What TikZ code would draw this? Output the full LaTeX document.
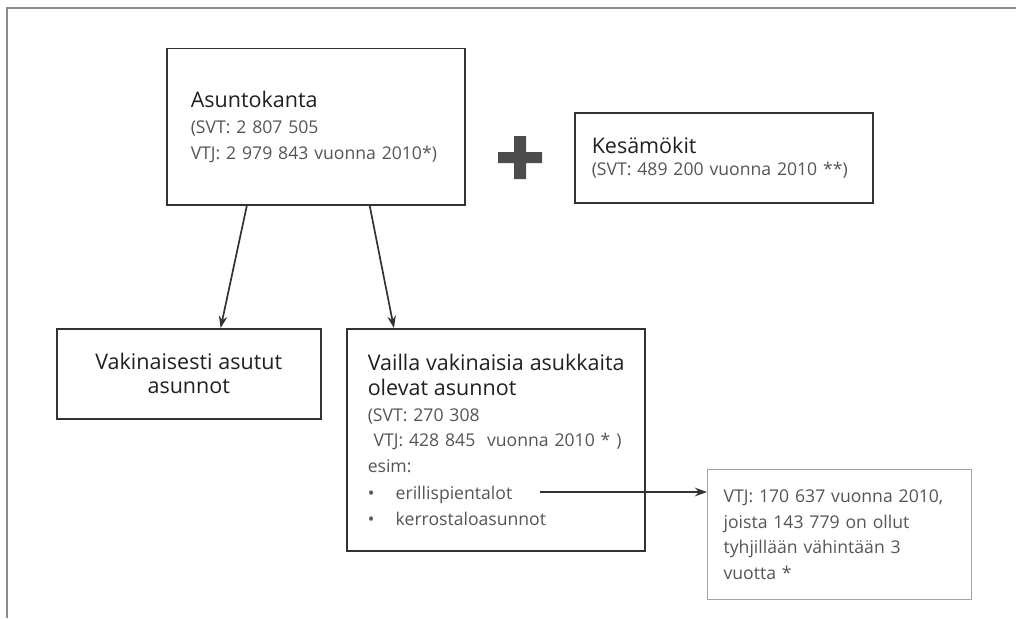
\documentclass[tikz,border=0pt]{standalone}
\usepackage{fontspec}
\setmainfont{Open Sans}
\usetikzlibrary{arrows.meta,positioning,calc}
\definecolor{viiva}{HTML}{333333}
\definecolor{kehys}{HTML}{8C8C8C}
\definecolor{harmaa}{HTML}{555555}
\definecolor{otsikko}{HTML}{231F20}
\newcommand{\otsikko}{\color{otsikko}\fontsize{21.5}{25}\selectfont}

\begin{document}
\begin{tikzpicture}[x=1pt,y=-1pt,>={Stealth[length=12pt,width=8.5pt]},
  laatikko/.style={draw=viiva,line width=1.5pt,rectangle,anchor=north west,
    align=left,inner ysep=0pt,text=harmaa,font=\fontsize{17.6}{25.5}\selectfont},
  nuoli/.style={->,draw=viiva,line width=1.7pt}]
  \useasboundingbox (0,0) rectangle (1016,618);
  \draw[kehys,line width=1.8pt] (1016,8) -| (7,618);

  \node[laatikko,inner xsep=24pt,text width=250pt,minimum height=156pt] (kanta) at (166,48)
    {{\otsikko Asuntokanta}\\[0.5pt](SVT: 2 807 505\\\mbox{VTJ: 2 979 843 vuonna 2010*)}};
  \node[laatikko,inner xsep=17pt,text width=264pt,minimum height=90pt] (mokit) at (574,112)
    {{\otsikko Kesämökit}\\[-3.5pt]\mbox{(SVT: 489 200 vuonna 2010 **)}};
  \node[laatikko,align=center,inner xsep=10pt,text width=244pt,minimum height=90pt] (vak) at (56,328)
    {\otsikko Vakinaisesti asutut\\[-1.5pt]\otsikko asunnot};
  \node[laatikko,inner xsep=21pt,text width=256pt,minimum height=222pt] (vailla) at (346,328)
    {{\otsikko\mbox{Vailla vakinaisia asukkaita}}\\[-0.5pt]{\otsikko olevat asunnot}\\
     (SVT: 270 308\\
     \mbox{\ VTJ: 428 845\ \ vuonna 2010 * )}\\
     esim:\\[2pt]
     \makebox[28pt][l]{\textbullet}erillispientalot\\
     \makebox[28pt][l]{\textbullet}kerrostaloasunnot};
  \node[laatikko,draw=kehys!80,line width=1.2pt,inner xsep=16pt,text width=232pt,minimum height=130pt] (vtj) at (707,469)
    {\mbox{VTJ: 170 637 vuonna 2010,}\\joista 143 779 on ollut\\tyhjillään vähintään 3\\vuotta *};

  % plus
  \fill[harmaa!90!black] (498,152) rectangle (542,163) (514,136) rectangle (526,179);

  \coordinate (eri) at (540,492);
  \draw[nuoli] ($(kanta.south west)!0.27!(kanta.south east)$) -- ($(vak.north west)!0.62!(vak.north east)$);
  \draw[nuoli] ($(kanta.south west)!0.68!(kanta.south east)$) -- ($(vailla.north west)!0.16!(vailla.north east)$);
  \draw[nuoli] (eri) -- (eri -| vtj.west);
\end{tikzpicture}
\end{document}
